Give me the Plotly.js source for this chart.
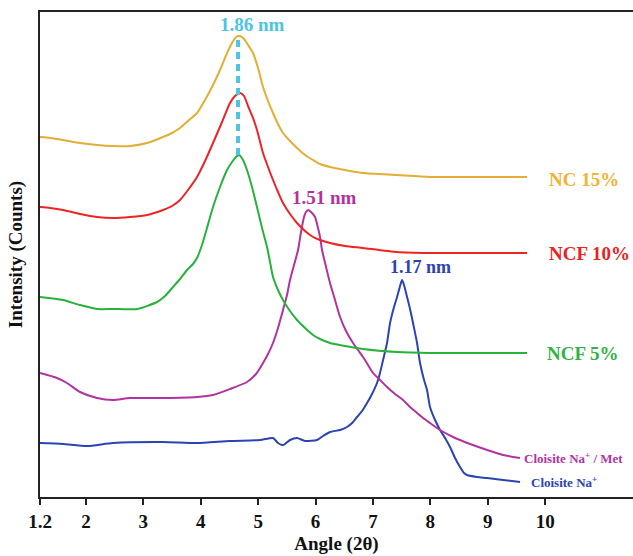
<!DOCTYPE html>
<html>
<head>
<meta charset="utf-8">
<script src="https://cdn.plot.ly/plotly-3.0.1.min.js"></script>
<style>html,body{margin:0;padding:0;background:#fff;}#chart{width:633px;height:556px;}</style>
</head>
<body>
<div id="chart"></div>
<script>
// Angle (2θ) and intensity (arbitrary counts)
const ncAngle = [1.2, 1.374, 1.6, 1.897, 2.193, 2.472, 2.768, 3.064, 3.343, 3.5, 3.639, 3.778, 3.935, 4.075, 4.214, 4.336, 4.458, 4.545, 4.615, 4.687, 4.754, 4.824, 4.911, 4.998, 5.085, 5.172, 5.259, 5.346, 5.433, 5.555, 5.677, 5.817, 5.956, 6.078, 6.252, 6.514, 6.827, 7.42, 7.994, 8.988, 9.684];
const ncInt   = [360, 359, 357, 354, 352, 351, 351, 354, 360, 364, 369, 376, 384, 397, 412, 427, 444, 454, 460, 461, 458, 452, 444, 429, 410, 396, 384, 373, 364, 356, 349, 342, 337, 333, 330, 327, 324, 322, 320, 320, 320];

const ncf10Angle = [1.2, 1.374, 1.6, 1.897, 2.193, 2.472, 2.768, 3.064, 3.343, 3.5, 3.639, 3.778, 3.935, 4.075, 4.214, 4.371, 4.51, 4.597, 4.687, 4.754, 4.824, 4.911, 4.98, 5.085, 5.172, 5.259, 5.346, 5.433, 5.555, 5.677, 5.817, 5.956, 6.078, 6.252, 6.514, 6.827, 7.42, 7.994, 9.684];
const ncf10Int   = [290, 289, 287, 283, 280, 279, 280, 282, 287, 291, 297, 307, 320, 336, 354, 375, 394, 401, 404, 401, 391, 379, 367, 344, 330, 317, 305, 294, 283, 274, 266, 260, 257, 254, 251, 249, 245, 244, 244];

const ncf5Angle = [1.2, 1.6, 1.897, 2.193, 2.472, 2.89, 3.238, 3.378, 3.517, 3.639, 3.761, 3.865, 3.935, 4.022, 4.109, 4.214, 4.336, 4.458, 4.545, 4.615, 4.667, 4.737, 4.806, 4.893, 4.98, 5.068, 5.155, 5.207, 5.259, 5.346, 5.433, 5.555, 5.677, 5.817, 5.956, 6.078, 6.252, 6.514, 6.827, 7.42, 7.994, 9.684];
const ncf5Int   = [200, 197, 192, 188, 188, 188, 195, 201, 210, 218, 227, 233, 239, 252, 269, 290, 310, 327, 335, 340, 342, 337, 327, 310, 290, 269, 250, 235, 220, 207, 197, 186, 177, 169, 162, 158, 154, 151, 148, 145, 144, 144];

const metAngle = [1.2, 1.496, 1.67, 1.897, 2.193, 2.472, 2.768, 3.343, 3.935, 4.214, 4.51, 4.806, 4.963, 5.085, 5.172, 5.259, 5.346, 5.433, 5.503, 5.555, 5.625, 5.695, 5.747, 5.799, 5.834, 5.869, 5.921, 5.991, 6.043, 6.078, 6.113, 6.183, 6.252, 6.339, 6.427, 6.531, 6.653, 6.74, 6.827, 6.914, 7.001, 7.123, 7.245, 7.385, 7.524, 7.646, 7.768, 7.873, 7.994, 8.169, 8.395, 8.691, 8.988, 9.266, 9.562];
const metInt   = [124, 119, 114, 105, 99, 97, 99, 99, 100, 102, 108, 115, 123, 134, 143, 154, 169, 187, 202, 217, 232, 247, 265, 280, 285, 287, 285, 280, 269, 260, 247, 230, 214, 197, 180, 166, 154, 147, 140, 132, 124, 117, 110, 103, 97, 90, 84, 79, 74, 67, 60, 53, 47, 42, 39];

const naAngle = [1.2, 1.6, 2.019, 2.472, 3.343, 3.935, 4.51, 5.033, 5.259, 5.346, 5.433, 5.555, 5.677, 5.817, 6.026, 6.13, 6.252, 6.427, 6.548, 6.636, 6.723, 6.81, 6.897, 6.984, 7.071, 7.123, 7.176, 7.245, 7.298, 7.367, 7.42, 7.472, 7.507, 7.541, 7.594, 7.646, 7.698, 7.768, 7.82, 7.89, 7.942, 7.994, 8.082, 8.169, 8.256, 8.343, 8.43, 8.517, 8.587, 8.639, 8.813, 8.988, 9.266, 9.562];
const naInt   = [54, 53, 51, 54, 55, 54, 56, 57, 59, 54, 52, 57, 59, 56, 57, 61, 65, 67, 70, 74, 80, 86, 94, 103, 114, 124, 137, 154, 174, 190, 200, 211, 217, 212, 200, 188, 174, 154, 134, 117, 107, 90, 77, 67, 59, 50, 39, 30, 24, 22, 20, 19, 17, 15];

// Guide line at the 1.86 nm peak
const guideAngle = [4.65, 4.65];
const guideInt = [342, 461];

const seriesNames = ["NC 15%", "NCF 10%", "NCF 5%", "Cloisite Na<sup>+</sup> / Met", "Cloisite Na<sup>+</sup>"];
const tickVals = [1.2, 2, 3, 4, 5, 6, 7, 8, 9, 10];
const tickText = ["1.2", "2", "3", "4", "5", "6", "7", "8", "9", "10"];

const font = "Liberation Serif, Times New Roman, serif";
const cols = ["#e2ae35", "#ee2424", "#28b23c", "#b2339e", "#2a44b2"];
const labelCols = ["#f2b232", "#ea2222", "#2fb445", "#b2339e", "#2a44b2"];

function tr(x, y, c) {
  return {x: x, y: y, type: "scatter", mode: "lines", line: {color: c, width: 2, shape: "spline", smoothing: 0.6}, hoverinfo: "skip", showlegend: false};
}
const data = [
  tr(naAngle, naInt, cols[4]),
  tr(metAngle, metInt, cols[3]),
  tr(ncf5Angle, ncf5Int, cols[2]),
  tr(ncf10Angle, ncf10Int, cols[1]),
  tr(ncAngle, ncInt, cols[0]),
  {x: guideAngle, y: guideInt, type: "scatter", mode: "lines", line: {color: "#4ec3e2", width: 4, dash: "7px,5px"}, hoverinfo: "skip", showlegend: false}
];

function ann(x, y, t, c, size, anchor) {
  return {x: x, y: y, text: "<b>" + t + "</b>", showarrow: false, xanchor: anchor, yanchor: "middle",
          font: {family: font, size: size, color: c}};
}
const annotations = [
  ann(10.03, 318, seriesNames[0], labelCols[0], 19, "left"),
  ann(10.03, 244, seriesNames[1], labelCols[1], 19, "left"),
  ann(10.0, 144, seriesNames[2], labelCols[2], 19, "left"),
  ann(9.6, 39, seriesNames[3], labelCols[3], 13, "left"),
  ann(9.72, 15, seriesNames[4], labelCols[4], 13, "left"),
  ann(4.91, 473, "1.86 nm", "#4ec3e2", 19, "center"),
  ann(6.15, 300, "1.51 nm", "#b2339e", 19, "center"),
  ann(7.82, 230, "1.17 nm", "#2a44b2", 18, "center")
];

const layout = {
  width: 633, height: 556,
  margin: {l: 40, r: 0, t: 12, b: 59},
  paper_bgcolor: "#ffffff", plot_bgcolor: "#ffffff",
  showlegend: false,
  xaxis: {
    range: [1.2, 11.53], tickvals: tickVals, ticktext: tickText,
    showgrid: false, zeroline: false, showline: true, linecolor: "#222", linewidth: 2, mirror: true,
    ticks: "outside", ticklen: 6, tickwidth: 2, tickcolor: "#222",
    tickfont: {family: font, size: 19, color: "#111", weight: "bold"},
    title: {text: "<b>Angle (2θ)</b>", font: {family: font, size: 19, color: "#111"}, standoff: 6}
  },
  yaxis: {
    range: [0, 485], showticklabels: false, ticks: "",
    showgrid: false, zeroline: false, showline: true, linecolor: "#222", linewidth: 2,
    title: {text: "<b>Intensity (Counts)</b>", font: {family: font, size: 19, color: "#111"}, standoff: 10}
  },
  annotations: annotations
};
Plotly.newPlot("chart", data, layout, {staticPlot: true, displayModeBar: false});
</script>
</body>
</html>
